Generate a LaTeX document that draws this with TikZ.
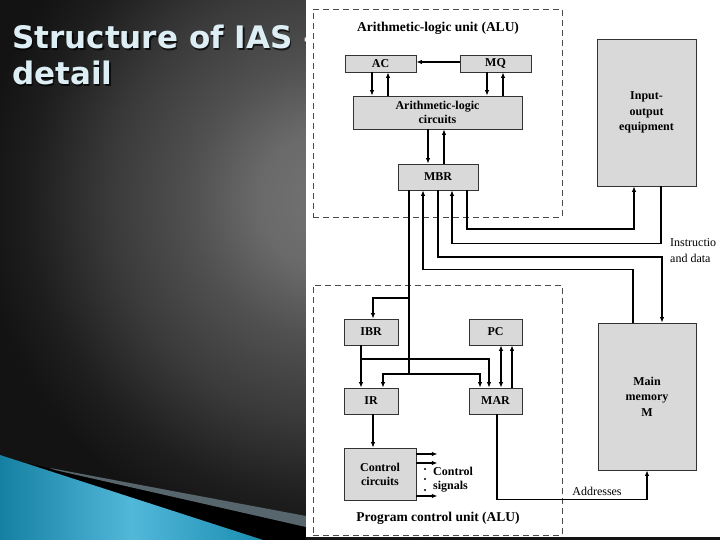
\documentclass[tikz,border=0pt]{standalone}
\usepackage{fontspec}
\setmainfont{Liberation Serif}
\newfontfamily\titlefont{DejaVu Sans}
\usetikzlibrary{arrows.meta}
\definecolor{boxgray}{HTML}{D9D9D9}
\definecolor{boxline}{HTML}{333333}
\definecolor{dashc}{HTML}{4A4A4A}
\definecolor{titlec}{HTML}{DDEFF5}
\definecolor{bgA}{HTML}{727272}
\definecolor{bgB}{HTML}{6A6A6A}
\definecolor{bgC}{HTML}{505050}
\definecolor{bgD}{HTML}{3A3A3A}
\definecolor{bgE}{HTML}{1E1E1E}
\definecolor{bgF}{HTML}{131313}
\definecolor{blueA}{HTML}{1580A2}
\definecolor{blueB}{HTML}{52B8DA}
\definecolor{blueC}{HTML}{1A8DB0}
\definecolor{wedge}{HTML}{56666C}
\pgfdeclareradialshading{bgshade}{\pgfpoint{0bp}{0bp}}{color(0bp)=(bgA); color(4.4bp)=(bgB); color(8.75bp)=(bgC); color(13.75bp)=(bgD); color(18.75bp)=(bgE); color(21.9bp)=(bgF); color(50bp)=(bgF)}
\begin{document}
\begin{tikzpicture}[x=1pt,y=-1pt,
  box/.style={draw=boxline, fill=boxgray, line width=0.8pt, inner sep=0pt, align=center,
    font=\bfseries\fontsize{12}{15.5}\selectfont},
  unitbox/.style={draw=dashc, line width=0.9pt, dash pattern=on 6pt off 4pt, inner sep=0pt},
  thn/.style={line width=1.05pt},
  thk/.style={line width=1.9pt},
  >={Latex[length=5.5pt,width=4.5pt]},
  lbl/.style={font=\bfseries\fontsize{13.5}{15}\selectfont, inner sep=0pt},
  note/.style={font=\fontsize{12}{16}\selectfont, inner sep=0pt, align=left},
  ttl/.style={font=\titlefont\bfseries\fontsize{31}{36}\selectfont, inner sep=0pt, anchor=base west},
]
\useasboundingbox (0,0) rectangle (720,540);
% background
\begin{scope}
\clip (0,0) rectangle (720,540);
\shade[shading=bgshade] (-70,-200) rectangle (730,600);
\end{scope}
% swoosh
\fill[black] (26,463) -- (306,527) -- (306,540) -- (263,540) -- cycle;
\fill[wedge] (50,468) -- (306,516) -- (306,527) -- (55,470) -- cycle;
\shade[left color=blueA, right color=blueC, middle color=blueB] (0,455) -- (263,540) -- (0,540) -- cycle;
% title
\node[ttl, text=black, opacity=0.7] (title1s) at (13.5,50.5) {Structure of IAS –};
\node[ttl, text=black, opacity=0.7] (title2s) at (13.5,86.5) {detail};
\node[ttl, text=titlec] (title1) at (12,49) {Structure of IAS –};
\node[ttl, text=titlec] (title2) at (12,85) {detail};
% panel
\fill[white] (306,0) rectangle (720,537);

% unit frames
\node[unitbox, minimum width=249, minimum height=208] (alu) at (437.5,113) {};
\node[unitbox, minimum width=249, minimum height=250] (pcu) at (437.5,410) {};
\node[lbl] (alulbl) at (438,28) {Arithmetic-logic unit (ALU)};
\node[lbl] (pculbl) at (438,518) {Program control unit (ALU)};

% boxes
\node[box, minimum width=71, minimum height=17] (AC) at (380.5,63.5) {AC};
\node[box, minimum width=71, minimum height=17] (MQ) at (495.5,63.5) {MQ};
\node[box, minimum width=169, minimum height=33, font=\bfseries\fontsize{12}{14.5}\selectfont] (ALC) at (437.5,112.5) {Arithmetic-logic\\circuits};
\node[box, minimum width=80, minimum height=26] (MBR) at (438,177) {MBR};
\node[box, minimum width=99, minimum height=147] (IO) at (646.5,112.5) {Input-\\output\\equipment};
\node[box, minimum width=98, minimum height=147] (MM) at (647,396.5) {Main\\memory\\M};
\node[box, minimum width=54, minimum height=26] (IBR) at (371,332) {IBR};
\node[box, minimum width=53, minimum height=26] (PC) at (495.5,332) {PC};
\node[box, minimum width=54, minimum height=26] (IR) at (371,401) {IR};
\node[box, minimum width=53, minimum height=26] (MAR) at (495.5,401) {MAR};
\node[box, minimum width=72, minimum height=52, font=\bfseries\fontsize{12}{14}\selectfont] (CC) at (380,474) {Control\\circuits};

% ALU connectors
\draw[thk,->] ([yshift=1.5]MQ.west) -- ([yshift=1.5]AC.east);
\draw[thn,->] ([xshift=-8.5]AC.south) -- ([xshift=-8.5]AC.south |- ALC.north);
\draw[thk,->] ([xshift=7.5]AC.south |- ALC.north) -- ([xshift=7.5]AC.south);
\draw[thn,->] ([xshift=-8.5]MQ.south) -- ([xshift=-8.5]MQ.south |- ALC.north);
\draw[thk,->] ([xshift=7.5]MQ.south |- ALC.north) -- ([xshift=7.5]MQ.south);
\draw[thk,->] ([xshift=-9.5]ALC.south) -- ([xshift=-9.5]ALC.south |- MBR.north);
\draw[thn,->] ([xshift=6.5]ALC.south |- MBR.north) -- ([xshift=6.5]ALC.south);

% buses
\draw[thk,->] ([xshift=29]MBR.south) -- ++(0,39) -| ([xshift=-12.5]IO.south);
\draw[thn,->] ([xshift=14.5]IO.south) -- ++(0,57) -| ([xshift=14]MBR.south);
\draw[thk,->] (MBR.south) -- ++(0,67) -| ([xshift=15]MM.north);
\draw[thn,->] ([xshift=-14]MM.north) -- ++(0,-53) -| ([xshift=-15]MBR.south);
\node[note, anchor=west] (insdata) at (670,251) {Instructio\\and data};

% MBR to program control unit
\coordinate (jA) at (409,298);
\coordinate (jB) at (409,374);
\coordinate (jC) at (361,359);
\draw[thn] ([xshift=-29]MBR.south) -- (jA) -- (jB);
\draw[thk,->] (jA) -| ([xshift=2]IBR.north);
\draw[thk,->] (jB) -| ([xshift=12]IR.north);
\draw[thk,->] (jB) -| ([xshift=-15.5]MAR.north);
\draw[thk,->] ([xshift=-10]IBR.south) -- ([xshift=-10]IR.north);
\draw[thn,->] (jC) -| ([xshift=-6.5]MAR.north);
\draw[thn,<->] ([xshift=5.5]MAR.north) -- ([xshift=5.5]PC.south);
\draw[thk,->] ([xshift=16.5]MAR.north) -- ([xshift=16.5]PC.south);
\draw[thn,->] ([xshift=2]IR.south) -- ([xshift=2]IR.south |- CC.north);

% control signals
\draw[thn,->] ([yshift=20]CC.east) -- ++(21,0);
\draw[thk,->] ([yshift=11]CC.east) -- ++(21,0);
\draw[thk,->] ([yshift=-22]CC.east) -- ++(21,0);
\fill (425,469) circle (1.1);
\fill (425,479) circle (1.1);
\fill (425,490) circle (1.1);
\node[note, anchor=west, font=\bfseries\fontsize{12}{14}\selectfont] (sig) at (433,480) {Control\\signals};

% addresses
\draw[thn,->] ([xshift=1.5]MAR.south) -- ++(0,85) -| (MM.south);
\node[note] (addr) at (597,491) {Addresses};
\end{tikzpicture}
\end{document}
